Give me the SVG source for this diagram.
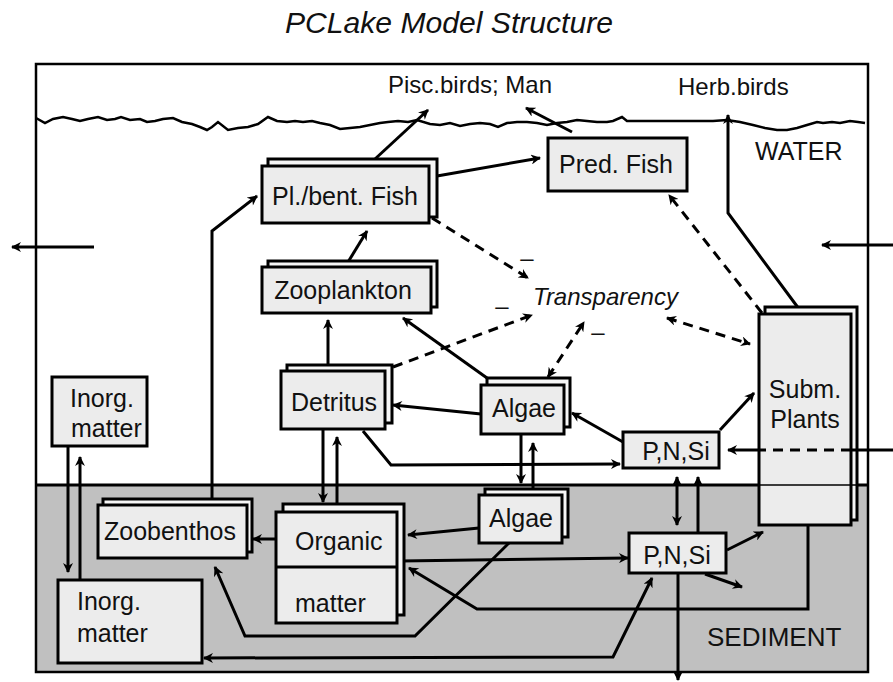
<svg xmlns="http://www.w3.org/2000/svg" width="893" height="682" viewBox="0 0 893 682">
<style>
.box{fill:#ececec;stroke:#000;stroke-width:3}
.back{fill:#f6f6f6;stroke:#000;stroke-width:3}
.t{font-family:"Liberation Sans",Arial,sans-serif;font-size:25px;fill:#111}
.m{text-anchor:middle}
.c{fill:none;stroke:#000;stroke-width:3}
.d{stroke-dasharray:10 7}
</style>
<defs>
<marker id="ah" viewBox="0 0 10 10" markerUnits="userSpaceOnUse" markerWidth="11" markerHeight="10" refX="9" refY="5" orient="auto-start-reverse">
<path d="M0,0 L10,5 L0,10 L3,5 z" fill="#000"/>
</marker>
</defs>
<rect width="893" height="682" fill="#fff"/>
<g id="frame">
<rect x="36" y="485" width="832" height="187" fill="#c0c0c0"/>
<rect x="36" y="64" width="832" height="608" fill="none" stroke="#000" stroke-width="2.5"/>
<line x1="36" y1="485" x2="868" y2="485" stroke="#000" stroke-width="3"/>
<polyline fill="none" stroke="#000" stroke-width="2.5" points="36,118 45,123 53,119 63,117 72,119 80,121 88,119 98,117 107,120 115,119 121,117 130,120 140,119 147,122 155,121 163,119 173,118 182,122 192,124 200,127 207,130 212,127 218,122 228,130 238,128 248,127 258,124 268,117 277,121 287,122 295,121 303,122 312,121 320,123 330,125 340,129 350,128 360,127 370,125 380,123 388,122 398,121 408,122 417,120 430,124 440,125 450,123 460,126 470,124 480,123 490,124 498,127 507,123 517,122 527,122 537,123 547,125 557,123 567,122 577,120 587,121 597,122 607,122 613,121 622,117 627,121 637,121 647,121 660,121 673,121 687,121 700,121 713,121 727,120 740,122 753,125 765,128 777,130 787,130 797,128 807,125 817,122 823,123 832,122 840,123 850,121 858,122 865,123"/>
</g>
<g id="labels">
<text x="449" y="33" class="t m" style="font-size:30px;font-style:italic" textLength="328" lengthAdjust="spacingAndGlyphs">PCLake Model Structure</text>
<text x="388" y="93" class="t" style="font-size:24px">Pisc.birds; Man</text>
<text x="678" y="95" class="t" style="font-size:24px">Herb.birds</text>
<text x="755" y="160" class="t" style="font-size:25px">WATER</text>
<text x="707" y="646" class="t" style="font-size:26px">SEDIMENT</text>
<text x="533" y="305" class="t" style="font-size:24px;font-style:italic">Transparency</text>
<text x="527" y="266" class="t m" style="font-size:24px">–</text>
<text x="502" y="314" class="t m" style="font-size:24px">–</text>
<text x="598" y="340" class="t m" style="font-size:24px">–</text>
</g>
<g id="connectors">
<path class="c" d="M94,247 L12,247" marker-end="url(#ah)"/>
<path class="c" d="M893,245 L822,245" marker-end="url(#ah)"/>
<path class="c" d="M375,159 L428,110" marker-end="url(#ah)"/>
<path class="c" d="M572,132 L526,108" marker-end="url(#ah)"/>
<path class="c" d="M437,176 L540,158" marker-end="url(#ah)"/>
<path class="c" d="M802,313 L728,213 L728,115" marker-end="url(#ah)"/>
<path class="c" d="M345,267 L367,231" marker-end="url(#ah)"/>
<path class="c" d="M212,499 L212,231 L257,196" marker-end="url(#ah)"/>
<path class="c d" d="M432,218 L528,278" marker-end="url(#ah)"/>
<path class="c" d="M487,378 L403,318" marker-end="url(#ah)"/>
<path class="c d" d="M393,367 L532,315" marker-end="url(#ah)"/>
<path class="c d" d="M548,377 L584,322" marker-start="url(#ah)" marker-end="url(#ah)"/>
<path class="c d" d="M667,318 L750,344" marker-start="url(#ah)" marker-end="url(#ah)"/>
<path class="c d" d="M762,313 L669,195" marker-end="url(#ah)"/>
<path class="c" d="M328,365 L328,320" marker-end="url(#ah)"/>
<path class="c" d="M481,414 L393,405" marker-end="url(#ah)"/>
<path class="c" d="M363,431 L391,465 L620,464" marker-end="url(#ah)"/>
<path class="c" d="M623,442 L572,413" marker-end="url(#ah)"/>
<path class="c" d="M720,430 L754,393" marker-end="url(#ah)"/>
<path class="c" d="M323,429 L323,502" marker-end="url(#ah)"/>
<path class="c" d="M337,504 L337,437" marker-end="url(#ah)"/>
<path class="c" d="M68,446 L68,572" marker-end="url(#ah)"/>
<path class="c" d="M80,580 L80,457" marker-end="url(#ah)"/>
<path class="c" d="M521,434 L521,483" marker-end="url(#ah)"/>
<path class="c" d="M533,489 L533,443" marker-end="url(#ah)"/>
<path class="c" d="M677,477 L677,525" marker-start="url(#ah)" marker-end="url(#ah)"/>
<path class="c" d="M698,533 L698,477" marker-end="url(#ah)"/>
<path class="c" d="M276,539 L253,539" marker-end="url(#ah)"/>
<path class="c" d="M479,528 L408,535" marker-end="url(#ah)"/>
<path class="c" d="M400,561 L628,558" marker-end="url(#ah)"/>
<path class="c" d="M808,525 L808,609 L477,609 L409,568" marker-end="url(#ah)"/>
<path class="c" d="M510,542 L415,636 L245,636 L215,567" marker-end="url(#ah)"/>
<path class="c" d="M652,578 L613,657 L204,658" marker-start="url(#ah)" marker-end="url(#ah)"/>
<path class="c" d="M727,550 L763,532" marker-end="url(#ah)"/>
<path class="c" d="M705,574 L742,587" marker-end="url(#ah)"/>
<path class="c" d="M678,573 L678,680" marker-end="url(#ah)"/>
</g>
<g id="subm-plants">
<rect class="back" x="765" y="307" width="92" height="213"/>
<rect class="box" x="759" y="314" width="92" height="211"/>
<line x1="759" y1="485" x2="857" y2="485" stroke="#000" stroke-width="1.5"/>
<text x="805" y="398" class="t m">Subm.</text>
<text x="805" y="428" class="t m">Plants</text>
</g>
<g id="inflow-pnsi">
<path class="c" d="M893,450 L851,450"/>
<path class="c d" d="M851,450 L759,450"/>
<path class="c" d="M759,450 L728,450" marker-end="url(#ah)"/>
</g>
<g id="pl-bent-fish">
<rect class="back" x="268" y="159" width="169" height="58"/>
<rect class="box" x="262" y="166" width="167" height="57"/>
<text x="345" y="205" class="t m" textLength="146" lengthAdjust="spacingAndGlyphs">Pl./bent. Fish</text>
</g>
<g id="zooplankton">
<rect class="back" x="268" y="261" width="169" height="46"/>
<rect class="box" x="262" y="267" width="169" height="46"/>
<text x="343" y="299" class="t m">Zooplankton</text>
</g>
<g id="pred-fish">
<rect class="box" x="548" y="138" width="139" height="53"/>
<text x="616" y="173" class="t m">Pred. Fish</text>
</g>
<g id="detritus">
<rect class="back" x="287" y="365" width="105" height="58"/>
<rect class="box" x="281" y="371" width="104" height="58"/>
<text x="334" y="411" class="t m">Detritus</text>
</g>
<g id="algae-water">
<rect class="back" x="487" y="378" width="83" height="49"/>
<rect class="box" x="481" y="385" width="83" height="49"/>
<text x="524" y="417" class="t m">Algae</text>
</g>
<g id="pnsi-water">
<rect class="box" x="623" y="432" width="96" height="36"/>
<text x="676" y="460" class="t m">P,N,Si</text>
</g>
<g id="inorg-water">
<rect class="box" x="52" y="377" width="95" height="69"/>
<text x="70" y="407" class="t">Inorg.</text>
<text x="71" y="437" class="t">matter</text>
</g>
<g id="zoobenthos">
<rect class="back" x="103" y="499" width="149" height="53"/>
<rect class="box" x="98" y="505" width="149" height="53"/>
<text x="170" y="540" class="t m">Zoobenthos</text>
</g>
<g id="organic-matter">
<rect class="back" x="283" y="504" width="121" height="111"/>
<rect class="box" x="276" y="512" width="121" height="111"/>
<line x1="276" y1="567" x2="397" y2="567" stroke="#000" stroke-width="3"/>
<text x="295" y="550" class="t">Organic</text>
<text x="295" y="612" class="t">matter</text>
</g>
<g id="algae-sediment">
<rect class="back" x="485" y="489" width="83" height="48"/>
<rect class="box" x="479" y="495" width="83" height="48"/>
<text x="521" y="527" class="t m">Algae</text>
</g>
<g id="pnsi-sediment">
<rect class="box" x="629" y="533" width="97" height="40"/>
<text x="677" y="564" class="t m">P,N,Si</text>
</g>
<g id="inorg-sediment">
<rect class="box" x="58" y="580" width="144" height="83"/>
<text x="77" y="610" class="t">Inorg.</text>
<text x="77" y="642" class="t">matter</text>
</g>
</svg>
